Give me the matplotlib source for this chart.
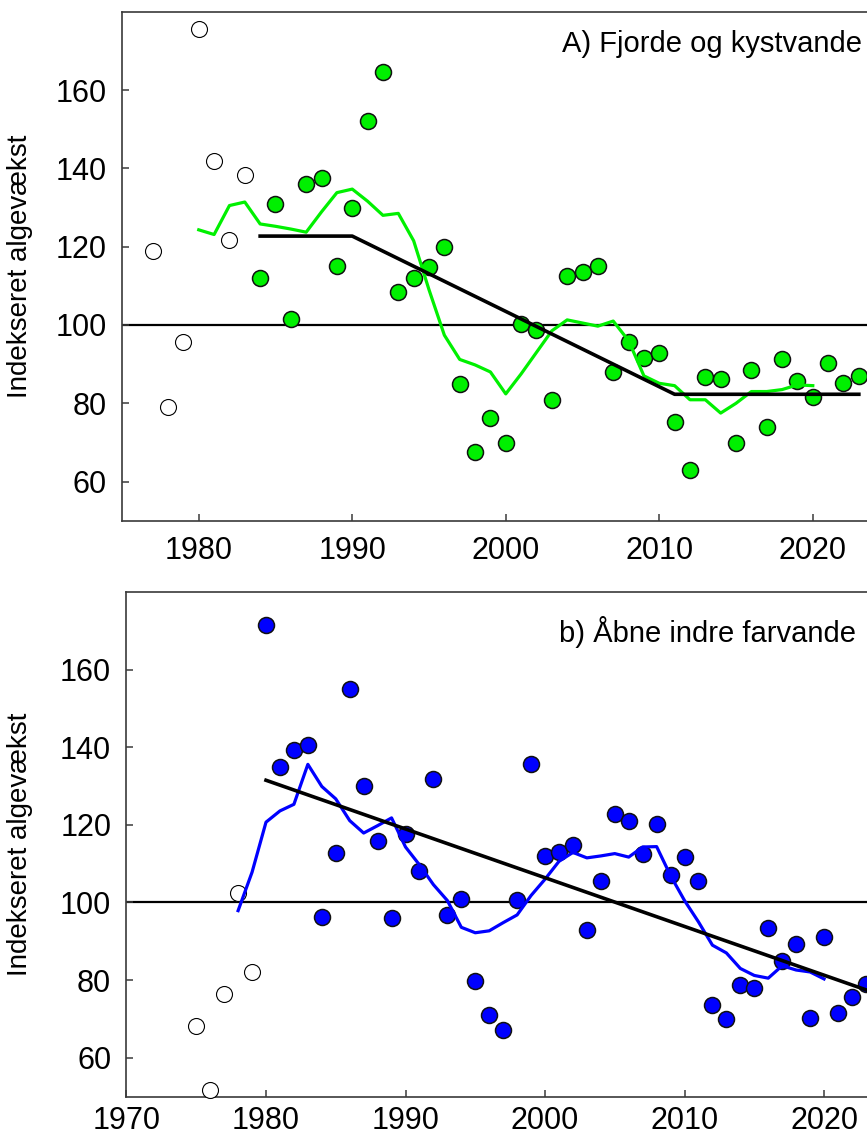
#!/usr/bin/env python3
"""Indexed algal growth in fjords/coastal waters and open inner waters, two stacked panels."""

import matplotlib

matplotlib.use("Agg")
import matplotlib.pyplot as plt

plt.rcParams["font.family"] = ["Liberation Sans", "DejaVu Sans"]

# --- A) Fjorde og kystvande -------------------------------------------------
years_a_early = [1977, 1978, 1979, 1980, 1981, 1982, 1983]
vals_a_early = [119.0, 79.1, 95.6, 175.5, 142.0, 121.6, 138.3]

years_a = list(range(1984, 2024))
vals_a = [112.0, 131.0, 101.4, 136.0, 137.5, 115.1, 129.8, 152.2, 164.5, 108.5,
          112.0, 114.8, 119.8, 84.8, 67.5, 76.2, 69.8, 100.3, 98.6, 80.9,
          112.5, 113.6, 115.0, 88.1, 95.7, 91.5, 92.8, 75.1, 62.9, 86.6,
          86.2, 69.8, 88.5, 74.0, 91.2, 85.8, 81.7, 90.2, 85.1, 87.0]

smooth_years_a = list(range(1980, 2021))
smooth_a = [124.3, 123.1, 130.5, 131.4, 125.8, 125.2, 124.5, 123.7, 128.9, 133.8,
            134.7, 131.6, 128.0, 128.5, 121.5, 109.0, 97.4, 91.2, 89.8, 88.0,
            82.4, 87.5, 93.0, 98.5, 101.3, 100.5, 99.7, 101.0, 96.0, 87.0,
            85.1, 84.5, 80.9, 80.9, 77.5, 80.0, 83.0, 83.0, 83.5, 84.7, 84.5]

trend_years_a = [1984, 1990, 2011, 2023]
trend_a = [122.7, 122.7, 82.3, 82.3]

# --- b) Åbne indre farvande -------------------------------------------------
years_b_early = [1975, 1976, 1977, 1978, 1979]
vals_b_early = [68.3, 51.7, 76.3, 102.5, 82.2]

years_b = list(range(1980, 2024))
vals_b = [171.4, 134.9, 139.3, 140.7, 96.3, 112.7, 155.1, 129.9, 115.9, 95.9,
          117.7, 108.0, 131.9, 96.7, 100.9, 79.8, 71.1, 67.2, 100.6, 135.6,
          112.1, 112.9, 114.7, 92.8, 105.5, 122.7, 121.1, 112.4, 120.2, 107.1,
          111.7, 105.5, 73.6, 69.9, 78.7, 77.9, 93.5, 85.0, 89.4, 70.3,
          91.1, 71.4, 75.7, 78.9]

smooth_years_b = list(range(1978, 2021))
smooth_b = [97.9, 107.8, 120.7, 123.6, 125.3, 135.6, 129.9, 126.7, 121.1, 117.9,
            119.8, 121.8, 114.3, 109.7, 104.6, 100.5, 93.6, 92.2, 92.7, 94.8,
            96.8, 101.8, 106.0, 110.6, 112.9, 111.5, 112.0, 112.6, 111.7, 114.3,
            114.4, 106.9, 100.5, 95.0, 89.0, 87.0, 83.0, 81.2, 80.5, 83.7,
            82.6, 82.1, 80.3]

trend_years_b = [1980, 2023]
trend_b = [131.5, 77.5]

YLABEL = "Indekseret algevækst"
SPINE = "#3a3a3a"


def style_axes(ax, xlim, xticks, xpad=11):
    ax.set_xlim(*xlim)
    ax.set_ylim(50, 180)
    ax.set_xticks(xticks)
    ax.set_yticks(range(60, 161, 20))
    ax.tick_params(direction="in", length=5, width=1.1, color=SPINE,
                   labelsize=22, pad=11)
    ax.tick_params(axis="x", pad=xpad)
    for side in ("left", "bottom", "top", "right"):
        ax.spines[side].set_color(SPINE)
        ax.spines[side].set_linewidth(1.2)


def draw_panel(ax, early_x, early_y, x, y, sm_x, sm_y, tr_x, tr_y, color):
    ax.axhline(100, color="black", lw=1.6, zorder=1)
    ax.plot(early_x, early_y, "o", ms=11.5, mfc="white", mec="black", mew=0.8,
            zorder=3, clip_on=False)
    ax.plot(x, y, "o", ms=11.5, mfc=color, mec="#111111", mew=1.1, zorder=3,
            clip_on=False)
    ax.plot(sm_x, sm_y, color=color, lw=2.3, zorder=4)
    ax.plot(tr_x, tr_y, color="black", lw=2.6, zorder=5)


def main():
    fig = plt.figure(figsize=(8.67, 11.39), dpi=100)

    ax_a = fig.add_axes([0.1407, 0.5428, 0.8853, 0.4469])
    draw_panel(ax_a, years_a_early, vals_a_early, years_a, vals_a,
               smooth_years_a, smooth_a, trend_years_a, trend_a, "#00f000")
    style_axes(ax_a, (1975, 2025), range(1980, 2021, 10))
    ax_a.text(0.9637, 0.9214, "A) Fjorde og kystvande", transform=ax_a.transAxes,
              ha="right", va="baseline", fontsize=21)
    ax_a.set_ylabel(YLABEL, fontsize=20)
    ax_a.yaxis.set_label_coords(-0.116, 0.5)

    ax_b = fig.add_axes([0.1459, 0.0373, 0.8850, 0.4429])
    draw_panel(ax_b, years_b_early, vals_b_early, years_b, vals_b,
               smooth_years_b, smooth_b, trend_years_b, trend_b, "#0000ff")
    style_axes(ax_b, (1970, 2025), range(1970, 2021, 10), xpad=7)
    ax_b.text(0.9507, 0.9001, "b) Åbne indre farvande", transform=ax_b.transAxes,
              ha="right", va="baseline", fontsize=21)
    ax_b.set_ylabel(YLABEL, fontsize=20)
    ax_b.yaxis.set_label_coords(-0.1215, 0.5)

    fig.savefig("out.png", dpi=100)
    plt.close(fig)


if __name__ == "__main__":
    main()
